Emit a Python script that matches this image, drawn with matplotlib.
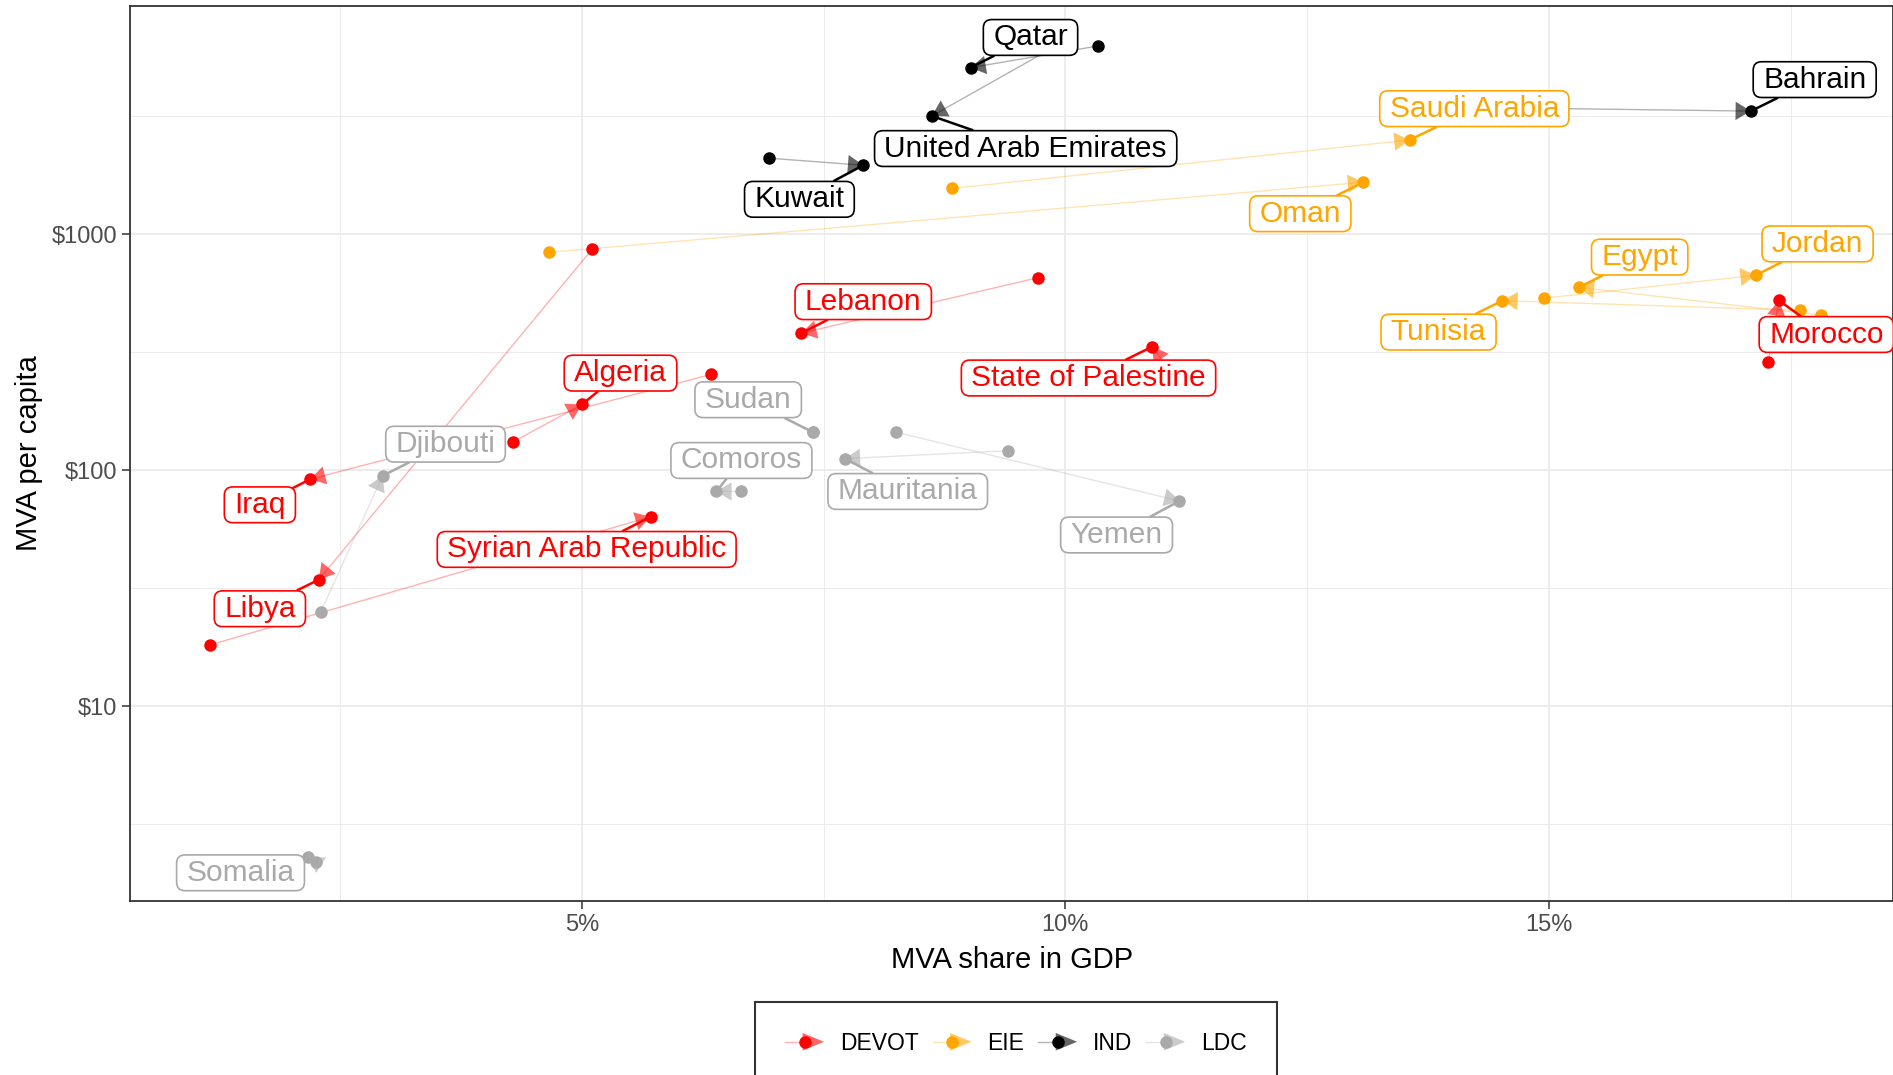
import matplotlib
matplotlib.use("Agg")
import matplotlib.pyplot as plt
from matplotlib.lines import Line2D
from matplotlib.patches import Polygon, BoxStyle
from matplotlib.legend_handler import HandlerBase
from matplotlib.ticker import FixedLocator, NullFormatter

plt.rcParams['font.family'] = ['Liberation Sans', 'DejaVu Sans']

# ---------------- data ----------------
countries = ["Qatar", "United Arab Emirates", "Kuwait", "Bahrain",
             "Saudi Arabia", "Oman", "Egypt", "Tunisia", "Jordan",
             "Lebanon", "State of Palestine", "Algeria", "Iraq", "Libya",
             "Syrian Arab Republic", "Morocco",
             "Sudan", "Comoros", "Djibouti", "Somalia", "Yemen", "Mauritania"]
groups = ["IND", "IND", "IND", "IND",
          "EIE", "EIE", "EIE", "EIE", "EIE",
          "DEVOT", "DEVOT", "DEVOT", "DEVOT", "DEVOT", "DEVOT", "DEVOT",
          "LDC", "LDC", "LDC", "LDC", "LDC", "LDC"]
# MVA share in GDP (%) and MVA per capita ($): start and end of each arrow
share_start = [10.34, 9.94, 6.94, 14.34,
               8.83, 4.66, 17.82, 17.60, 14.95,
               9.72, 11.15, 4.29, 6.34, 5.11, 1.155, 17.27,
               7.39, 6.65, 2.30, 2.25, 8.25, 9.41]
percap_start = [6280, 6400, 2100, 3440,
                1564, 838, 454, 476, 536,
                655, 240, 132, 255, 868, 18.2, 287,
                145, 81.3, 25.1, 2.19, 145, 121]
share_end = [9.02, 8.62, 7.91, 17.09,
             13.56, 13.08, 15.31, 14.52, 17.14,
             7.27, 10.90, 5.00, 2.19, 2.28, 5.71, 17.38,
             7.39, 6.39, 2.94, 2.17, 11.18, 7.72]
percap_end = [5080, 3170, 1960, 3325,
              2508, 1660, 596, 523, 670,
              381, 334, 190, 91.6, 34.4, 63.5, 524,
              145, 81.3, 94.8, 2.30, 74.1, 112]

group_names = ["DEVOT", "EIE", "IND", "LDC"]
group_colors = {"DEVOT": "#FF0000", "EIE": "#FFA500", "IND": "#000000", "LDC": "#A9A9A9"}

x_ticks = [5, 10, 15]
x_tick_labels = ["5%", "10%", "15%"]
y_ticks = [10, 100, 1000]
y_tick_labels = [r"\$10", r"\$100", r"\$1000"]

# label placement (layout, data coordinates)
label_pos = {
    "Qatar": (9.64, 6820), "United Arab Emirates": (9.59, 2307),
    "Kuwait": (7.25, 1406), "Bahrain": (17.75, 4520),
    "Saudi Arabia": (14.23, 3405), "Oman": (12.43, 1222),
    "Egypt": (15.94, 800), "Tunisia": (13.86, 385), "Jordan": (17.78, 910),
    "Lebanon": (7.91, 518), "State of Palestine": (10.24, 246),
    "Algeria": (5.40, 258), "Iraq": (1.67, 71.4), "Libya": (1.67, 25.9),
    "Syrian Arab Republic": (5.05, 46.2), "Morocco": (17.87, 376),
    "Sudan": (6.72, 199), "Comoros": (6.65, 110), "Djibouti": (3.59, 129),
    "Somalia": (1.47, 1.97), "Yemen": (10.53, 53.2), "Mauritania": (8.37, 81.3),
}

# ---------------- figure ----------------
W, H = 1893, 1075
fig = plt.figure(figsize=(W / 100, H / 100), dpi=100)
ax = fig.add_axes([130.4 / W, 1 - 900.6 / H, 1 - 130.4 / W, (900.6 - 6) / H])
ax.set_yscale('log')
ax.set_xlim(0.331, 18.56)
ax.set_ylim(1.502, 9270)

# grid
ax.xaxis.set_major_locator(FixedLocator(x_ticks))
ax.xaxis.set_minor_locator(FixedLocator([2.5, 7.5, 12.5, 17.5]))
ax.yaxis.set_major_locator(FixedLocator(y_ticks))
ax.yaxis.set_minor_locator(FixedLocator([10 ** 0.5, 10 ** 1.5, 10 ** 2.5, 10 ** 3.5]))
ax.xaxis.set_minor_formatter(NullFormatter())
ax.yaxis.set_minor_formatter(NullFormatter())
ax.set_xticklabels(x_tick_labels)
ax.set_yticklabels(y_tick_labels)
ax.grid(True, which='major', color='#EBEBEB', lw=1.3)
ax.grid(True, which='minor', color='#EBEBEB', lw=0.7)
ax.set_axisbelow(True)
ax.tick_params(which='major', length=5.5, width=1.1, color='#333333',
               labelsize=17, labelcolor='#4D4D4D', pad=4)
ax.tick_params(which='minor', length=0)
for s in ax.spines.values():
    s.set_color('#333333')
    s.set_linewidth(1.3)

ax.set_xlabel("MVA share in GDP", fontsize=21, labelpad=7)
ax.set_ylabel("MVA per capita", fontsize=21, labelpad=6)

# arrows
for i, name in enumerate(countries):
    c = group_colors[groups[i]]
    if share_start[i] == share_end[i] and percap_start[i] == percap_end[i]:
        continue
    ax.plot([share_start[i], share_end[i]], [percap_start[i], percap_end[i]],
            color=c, alpha=0.3, lw=1.0, zorder=3, solid_capstyle='butt')
    ax.annotate('', xy=(share_end[i], percap_end[i]),
                xytext=(share_start[i], percap_start[i]),
                arrowprops=dict(arrowstyle='-|>,head_length=0.5,head_width=0.3',
                                mutation_scale=22, fc=c, ec='none', alpha=0.6,
                                lw=0, shrinkA=0, shrinkB=0),
                zorder=3)

# points
for i, name in enumerate(countries):
    c = group_colors[groups[i]]
    ax.plot([share_start[i], share_end[i]], [percap_start[i], percap_end[i]],
            ls='none', marker='o', ms=9, color=c, mec='none', zorder=4)


# label box with separate horizontal / vertical padding
_round = BoxStyle.Round(pad=0, rounding_size=0.28)


def label_box(x0, y0, width, height, mutation_size):
    padx = 0.33 * mutation_size
    pady = 0.13 * mutation_size
    return _round(x0 - padx, y0 - pady, width + 2 * padx, height + 2 * pady,
                  mutation_size)


# labels
for i, name in enumerate(countries):
    c = group_colors[groups[i]]
    lx, ly = label_pos[name]
    ax.annotate(name, xy=(share_end[i], percap_end[i]), xytext=(lx, ly),
                textcoords='data', ha='center', va='center', fontsize=21.5,
                color=c, zorder=6,
                bbox=dict(boxstyle=label_box, fc='white', ec=c, lw=1.2),
                arrowprops=dict(arrowstyle='-', color=c, lw=1.8,
                                shrinkA=0, shrinkB=0))


# legend
class ArrowDotHandler(HandlerBase):
    def create_artists(self, legend, orig_handle, xdescent, ydescent,
                       width, height, fontsize, trans):
        c = orig_handle.get_color()
        y = height / 2 - ydescent
        x0 = -xdescent
        line = Line2D([x0, x0 + width * 0.6], [y, y], color=c, alpha=0.3, lw=1,
                      transform=trans)
        hh = height * 0.55
        head = Polygon([[x0 + width * 0.45, y - hh], [x0 + width * 0.45, y + hh],
                        [x0 + width * 1.0, y]], closed=True, fc=c, ec='none',
                       alpha=0.6, transform=trans)
        dot = Line2D([x0 + width * 0.5], [y], marker='o', ms=9, color=c,
                     mec='none', ls='none', transform=trans)
        return [line, head, dot]


handles = [Line2D([], [], color=group_colors[g]) for g in group_names]
leg = fig.legend(handles, group_names, loc='upper center',
                 bbox_to_anchor=(1016 / W, 1 - 1002 / H), ncol=4,
                 handler_map={Line2D: ArrowDotHandler()},
                 fontsize=16.5, frameon=True, fancybox=False, edgecolor='black',
                 borderpad=1.3, borderaxespad=0, handlelength=1.7,
                 handletextpad=0.7, columnspacing=0.6)
leg.get_frame().set_linewidth(1.5)

fig.savefig("out.png", dpi=100)
